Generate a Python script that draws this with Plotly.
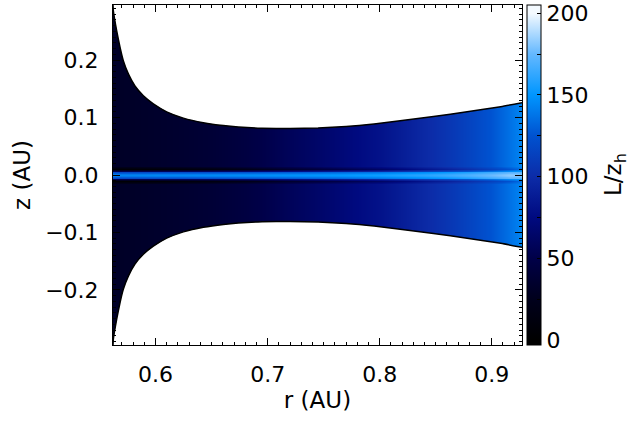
import numpy as np
import plotly.graph_objects as go

# Radial sample columns (AU) and the L/z_h values along them
r_cols = [0.562, 0.58, 0.60, 0.62, 0.65, 0.68, 0.70, 0.72, 0.74, 0.76, 0.78, 0.80,
          0.82, 0.84, 0.86, 0.88, 0.90, 0.915, 0.927]
bg_vals = [31, 32, 34, 36, 40, 46, 52, 58, 63, 69, 75, 81,
           89, 98, 106, 115, 126, 136, 144]
mid_vals = [143, 143, 144, 144, 145, 146, 147, 148, 149, 150, 152, 154,
            157, 160, 164, 169, 176, 182, 180]

# Vertical rows (AU) and the midplane-band weight in each row
z_rows = [-0.30, -0.015, -0.0105, -0.0075, -0.005, -0.0025, 0.0,
          0.0025, 0.005, 0.0075, 0.0105, 0.015, 0.30]
band_w = [0.0, 0.0, -0.25, 0.2, 0.78, 0.96, 1.0, 0.96, 0.78, 0.2, -0.25, 0.0, 0.0]

# Disk surface height z_s(r) (AU)
surf_r = [0.5620, 0.5623, 0.5653, 0.5683, 0.5712, 0.5757, 0.5816, 0.5891, 0.598, 0.6099,
          0.6248, 0.6426, 0.6605, 0.6739, 0.695, 0.720, 0.745, 0.770, 0.795, 0.820,
          0.848, 0.878, 0.908, 0.927]
surf_z = [0.296, 0.286, 0.251, 0.222, 0.199, 0.176, 0.155, 0.138, 0.124, 0.110,
          0.099, 0.091, 0.086, 0.0836, 0.0815, 0.0808, 0.0818, 0.0845, 0.089, 0.095,
          0.102, 0.110, 0.119, 0.126]

cb_ticks = [0, 25, 50, 75, 100, 125, 150, 175, 200]
cb_text = ["0", "", "50", "", "100", "", "150", "", "200"]

# Colour stops in L/z_h units
cmap_vals = [0, 25, 50, 75, 100, 125, 150, 175, 200]
cmap_cols = ["#000000", "#00001c", "#000048", "#000a80", "#0c2ca8",
             "#0052d0", "#0096ff", "#64b8ff", "#f4faff"]
c_lo, c_hi = -3.0, 205.0

bg = np.array(bg_vals, dtype=float)
mid = np.array(mid_vals, dtype=float)
grid = np.array([bg + w * (mid - bg) for w in band_w])

colorscale = [[0.0, cmap_cols[0]]]
for v, c in zip(cmap_vals, cmap_cols):
    colorscale.append([(v - c_lo) / (c_hi - c_lo), c])
colorscale.append([1.0, cmap_cols[-1]])

tick_font = dict(family="DejaVu Sans, sans-serif", size=22, color="black")
title_font = dict(family="DejaVu Sans, sans-serif", size=23, color="black")

fig = go.Figure()
fig.add_trace(go.Heatmap(
    x=r_cols, y=z_rows, z=grid,
    zmin=c_lo, zmax=c_hi, zsmooth="best",
    colorscale=colorscale,
    colorbar=dict(
        x=1.0, xanchor="left", xpad=5, thickness=14,
        len=1.0, lenmode="fraction", y=0.5, yanchor="middle", ypad=0,
        outlinecolor="black", outlinewidth=1,
        tickvals=cb_ticks, ticktext=cb_text,
        ticks="inside", ticklen=4, tickcolor="black",
        tickfont=tick_font,
    ),
    hoverinfo="skip",
))

rs = list(surf_r)
zs = list(surf_z)
top = 0.5
# White regions above and below the disk surface
fig.add_trace(go.Scatter(
    x=rs + [rs[-1], rs[0]], y=zs + [top, top],
    fill="toself", fillcolor="white", mode="none", showlegend=False, hoverinfo="skip"))
fig.add_trace(go.Scatter(
    x=rs + [rs[-1], rs[0]], y=[-v for v in zs] + [-top, -top],
    fill="toself", fillcolor="white", mode="none", showlegend=False, hoverinfo="skip"))
# Surface curves
for sign in (1, -1):
    fig.add_trace(go.Scatter(x=rs, y=[sign * v for v in zs], mode="lines",
                             line=dict(color="black", width=1.5, shape="spline", smoothing=0.5),
                             showlegend=False, hoverinfo="skip"))

axis_common = dict(
    showline=True, linecolor="black", linewidth=1, mirror="ticks",
    ticks="inside", ticklen=7, tickcolor="black", tickwidth=1,
    showgrid=False, zeroline=False, tickfont=tick_font,
)
fig.update_xaxes(range=[0.562, 0.927], tick0=0.6, dtick=0.1, tickformat=".1f",
                 ticklabelstandoff=10,
                 minor=dict(dtick=0.01, ticks="inside", ticklen=3, tickcolor="black"),
                 title=dict(text="r (AU)", font=title_font, standoff=5), **axis_common)
fig.update_yaxes(range=[-0.296, 0.296], tick0=0, dtick=0.1, tickformat=".1f",
                 ticklabelstandoff=9,
                 minor=dict(dtick=0.01, ticks="inside", ticklen=3, tickcolor="black"),
                 title=dict(text="z (AU)", font=title_font, standoff=8), **axis_common)

# Colour bar label, rotated to read upward
fig.add_annotation(text="L/z<sub>h</sub>", xref="paper", yref="paper", x=1.0, y=0.5,
                   xanchor="center", yanchor="middle", xshift=93, textangle=-90,
                   showarrow=False, font=title_font)

fig.update_layout(
    width=630, height=422,
    margin=dict(l=113, r=108, t=5, b=77),
    paper_bgcolor="white", plot_bgcolor="white",
    font=tick_font,
)
fig.write_html("out.html")
